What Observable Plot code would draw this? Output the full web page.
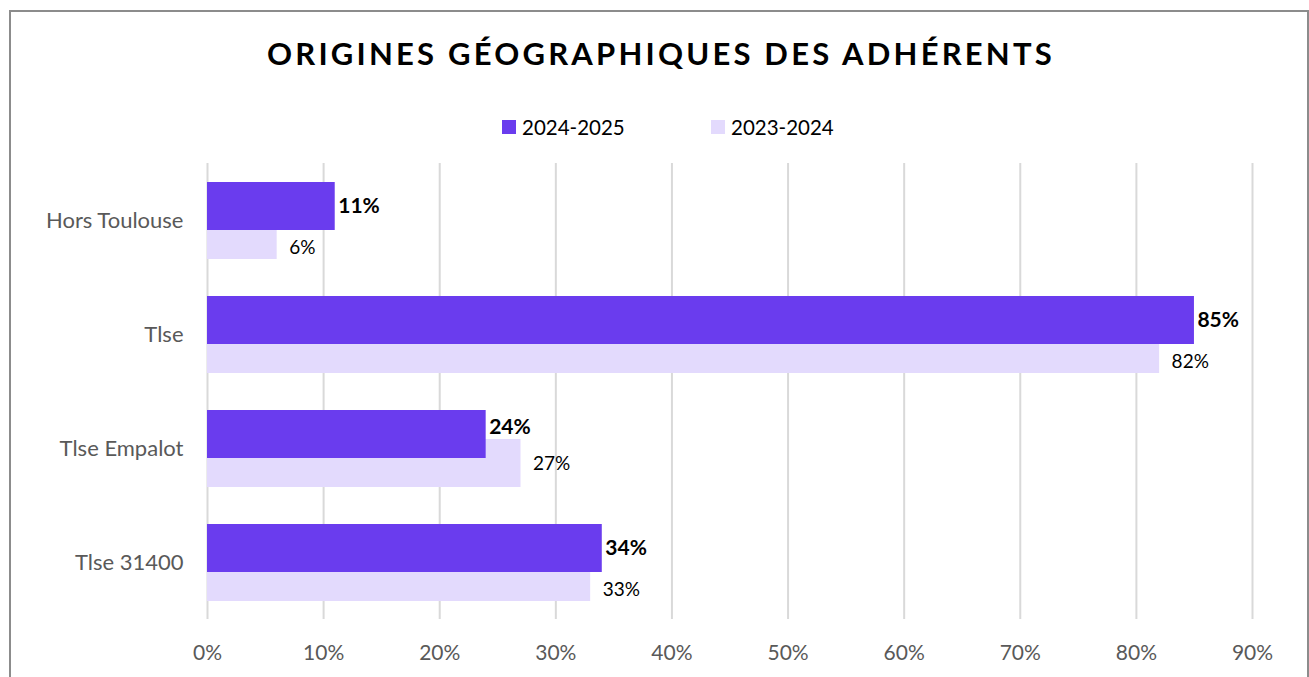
<!DOCTYPE html>
<html>
<head>
<meta charset="utf-8">
<script src="https://cdn.jsdelivr.net/npm/d3@7"></script>
<script src="https://cdn.jsdelivr.net/npm/@observablehq/plot@0.6"></script>
<style>
  html, body { margin: 0; padding: 0; background: #fff; }
  #wrap { position: relative; width: 1309px; height: 677px; overflow: hidden; font-family: Lato, "Open Sans", sans-serif; }
  #frame { position: absolute; left: 9px; top: 10px; width: 1300px; height: 720px; box-sizing: border-box; border: 2px solid #8c8c8c; }
  #title { position: absolute; left: 0; width: 1322px; top: 34px; text-align: center; font-weight: 700; font-size: 31px; letter-spacing: 3.2px; color: #000; white-space: nowrap; }
  #legend { position: absolute; top: 115px; left: 0; width: 1309px; height: 24px; }
  .item { position: absolute; top: 0; height: 24px; display: flex; align-items: center; font-size: 20.5px; color: #000; white-space: nowrap; }
  .sw { width: 14px; height: 14px; margin-right: 6px; }
  #chart { position: absolute; left: 0; top: 140px; }
</style>
</head>
<body>
<div id="wrap">
  <div id="frame"></div>
  <div id="title">ORIGINES GÉOGRAPHIQUES DES ADHÉRENTS</div>
  <div id="legend"></div>
  <div id="chart"></div>
</div>
<script>
const categories = ["Hors Toulouse", "Tlse", "Tlse Empalot", "Tlse 31400"];
const seriesNames = ["2024-2025", "2023-2024"];
const values2425 = [0.11, 0.85, 0.24, 0.34];
const values2324 = [0.06, 0.82, 0.27, 0.33];
const xTicks = [0, 0.1, 0.2, 0.3, 0.4, 0.5, 0.6, 0.7, 0.8, 0.9];
const xTickLabels = ["0%", "10%", "20%", "30%", "40%", "50%", "60%", "70%", "80%", "90%"];
const colors = ["#6a3cee", "#e3dafd"];

const rows = categories.map((c, i) => ({cat: c, cur: values2425[i], prev: values2324[i]}));
const fmt = v => Math.round(v * 100) + "%";

// legend
const legend = document.getElementById("legend");
const legendX = [502, 711];
seriesNames.forEach((s, i) => {
  const d = document.createElement("div");
  d.className = "item";
  d.style.left = legendX[i] + "px";
  d.innerHTML = `<span class="sw" style="background:${colors[i]}"></span><span>${s}</span>`;
  legend.appendChild(d);
});

const chart = Plot.plot({
  width: 1309,
  height: 537,
  marginTop: 23,
  marginBottom: 58,
  marginLeft: 207,
  marginRight: 57,
  style: {fontFamily: "Lato, 'Open Sans', sans-serif", background: "transparent", overflow: "visible"},
  x: {domain: [0, 0.9], ticks: xTicks},
  y: {domain: categories, padding: 0},
  marks: [
    Plot.ruleX(xTicks, {stroke: "#d9d9d9", strokeWidth: 2}),
    Plot.barX(rows, {y: "cat", x: "prev", fill: colors[1], insetTop: 48, insetBottom: 18}),
    Plot.barX(rows, {y: "cat", x: "cur", fill: colors[0], insetTop: 19, insetBottom: 47}),
    Plot.text(rows.filter(d => d.cur >= d.prev), {y: "cat", x: "cur", text: d => fmt(d.cur), textAnchor: "start", dx: 3, dy: -14, fontWeight: 700, fontSize: 21, fill: "#000"}),
    Plot.text(rows.filter(d => d.cur < d.prev), {y: "cat", x: "cur", text: d => fmt(d.cur), textAnchor: "start", dx: 3, dy: -21, fontWeight: 700, fontSize: 21, fill: "#000"}),
    Plot.text(rows.filter(d => d.prev <= d.cur), {y: "cat", x: "prev", text: d => fmt(d.prev), textAnchor: "start", dx: 12, dy: 27, fontSize: 19, fill: "#000"}),
    Plot.text(rows.filter(d => d.prev > d.cur), {y: "cat", x: "prev", text: d => fmt(d.prev), textAnchor: "start", dx: 12, dy: 15, fontSize: 19, fill: "#000"}),
    Plot.axisX(xTicks, {tickSize: 0, tickPadding: 26, tickFormat: (d, i) => xTickLabels[i], fontSize: 21, fill: "#595959", label: null}),
    Plot.axisY({tickSize: 0, tickPadding: 24, fontSize: 22, fill: "#595959", label: null})
  ]
});
document.getElementById("chart").appendChild(chart);
</script>
</body>
</html>
